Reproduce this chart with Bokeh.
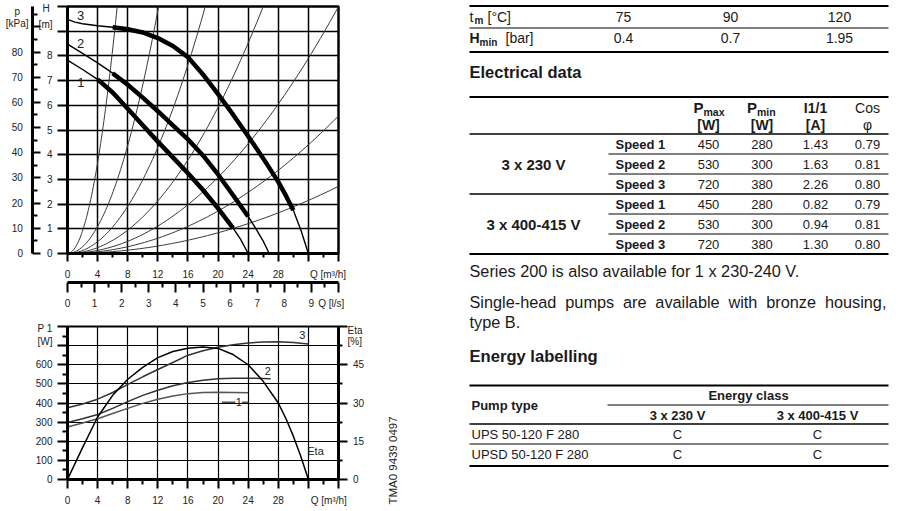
import math
from bokeh.plotting import figure
from bokeh.models import Range1d, LinearAxis, FixedTicker
from bokeh.layouts import row, column
from bokeh.embed import file_html
from bokeh.resources import INLINE
from bokeh.core.properties import value

FONT = "Liberation Sans"
INK = "#1a1a1a"
NB = "\u00a0"

# ---------------- Pump curves H [m] vs Q [m3/h]
q_speed1 = [0, 2, 4, 6, 8, 10, 12, 14, 16, 18, 20, 22, 23, 24]
h_speed1 = [7.83, 7.45, 7.05, 6.52, 5.86, 5.19, 4.53, 3.89, 3.25, 2.57, 1.83, 1.03, 0.57, 0.0]
q_speed2 = [0, 2, 4, 6, 8, 10, 12, 14, 16, 18, 20, 22, 24, 25, 26, 26.8]
h_speed2 = [8.48, 8.1, 7.72, 7.3, 6.83, 6.31, 5.76, 5.19, 4.62, 3.97, 3.2, 2.36, 1.5, 1.02, 0.5, 0.0]
q_speed3 = [0, 1, 2, 4, 6, 8, 10, 12, 14, 16, 18, 20, 22, 24, 26, 28, 29, 30, 31, 32]
h_speed3 = [9.48, 9.37, 9.3, 9.22, 9.16, 9.08, 8.95, 8.72, 8.4, 7.95, 7.25, 6.45, 5.62, 4.75, 3.85, 2.9, 2.35, 1.75, 0.95, 0.0]
speed_names = ["1", "2", "3"]
thick_q_from = [4, 6, 6]
thick_q_to = [22, 24, 30]

# system curves: end point of each parabola (Q [m3/h], H [m])
system_end_q = [6.6, 12.1, 18.3, 26.0, 36.0, 36.0, 36.0]
system_end_h = [10.0, 10.0, 10.0, 10.0, 10.0, 5.57, 2.72]

# axis ticks
q_major = [0, 4, 8, 12, 16, 20, 24, 28, 32, 36]
q_minor = [2, 6, 10, 14, 18, 22, 26, 30, 34]
q_labels = [0, 4, 8, 12, 16, 20, 24, 28]
h_major = [0, 1, 2, 3, 4, 5, 6, 7, 8, 9, 10]
h_labels = [0, 1, 2, 3, 4, 5, 6, 7, 8]
kpa_major = [0, 10, 20, 30, 40, 50, 60, 70, 80, 90]
kpa_minor = [5, 15, 25, 35, 45, 55, 65, 75, 85, 95]
kpa_labels = [0, 10, 20, 30, 40, 50, 60, 70, 80]
ls_major = [0, 1, 2, 3, 4, 5, 6, 7, 8, 9, 10]
ls_minor = [0.5, 1.5, 2.5, 3.5, 4.5, 5.5, 6.5, 7.5, 8.5, 9.5]
ls_labels = [0, 1, 2, 3, 4, 5, 6, 7, 8, 9]

# ---------------- Power P1 [W] and Eta [%] vs Q [m3/h]
q_p1_s1 = [0, 2, 4, 6, 8, 10, 12, 14, 16, 18, 20, 22, 24]
p1_s1 = [275, 295, 318, 345, 372, 398, 420, 437, 449, 455, 456, 455, 453]
q_p1_s2 = [0, 2, 4, 6, 8, 10, 12, 14, 16, 18, 20, 22, 24, 26, 27]
p1_s2 = [298, 318, 340, 372, 407, 440, 467, 490, 507, 519, 527, 530, 530, 528, 527]
q_p1_s3 = [0, 2, 4, 6, 8, 10, 12, 14, 16, 18, 20, 22, 24, 26, 28, 30, 32]
p1_s3 = [375, 395, 420, 455, 497, 537, 575, 612, 650, 673, 691, 705, 714, 719, 720, 716, 708]
q_eta = [0, 2, 4, 6, 8, 10, 12, 14, 16, 18, 20, 22, 24, 26, 28, 29, 30, 31, 32]
eta = [0, 12.5, 24.5, 33, 39.3, 44, 47.8, 50.2, 51.5, 52, 51.4, 49, 45, 38.5, 30, 24, 17, 9, 0]
p1_major = [0, 100, 200, 300, 400, 500, 600, 700, 800]
p1_minor = [50, 150, 250, 350, 450, 550, 650, 750]
p1_labels = [0, 100, 200, 300, 400, 500, 600]
eta_major = [0, 15, 30, 45, 60]
eta_minor = [7.5, 22.5, 37.5, 52.5]
eta_labels = [0, 15, 30, 45]

# ---------------- Tables
temp_values = ["75", "90", "120"]
hmin_values = ["0.4", "0.7", "1.95"]
supply = ["3 x 230 V", "3 x 400-415 V"]
speeds = ["Speed 1", "Speed 2", "Speed 3"]
p_max = ["450", "530", "720", "450", "530", "720"]
p_min = ["280", "300", "380", "280", "300", "380"]
i_full = ["1.43", "1.63", "2.26", "0.82", "0.94", "1.30"]
cos_phi = ["0.79", "0.81", "0.80", "0.79", "0.81", "0.80"]
notes = ["Series 200 is also available for 1 x 230-240 V.",
         "Single-head pumps are available with bronze housing,",
         "type B."]
pump_types = ["UPS 50-120 F 280", "UPSD 50-120 F 280"]
energy_230 = ["C", "C"]
energy_400 = ["C", "C"]
drawing_no = "TMA0 9439 0497"


def style_axis(ax, size="10px"):
    ax.axis_line_color = "black"
    ax.axis_line_width = 3
    ax.major_tick_line_color = "black"
    ax.major_tick_line_width = 2
    ax.minor_tick_line_color = "black"
    ax.minor_tick_line_width = 2
    ax.major_label_text_font = FONT
    ax.major_label_text_font_size = size
    ax.major_label_text_color = "#222222"


def no_labels(ax, ticks):
    ax.major_label_overrides = {t: "" for t in ticks}
    ax.major_label_text_font_size = "0px"
    ax.major_label_standoff = 0


def carrier(fig, side, ticks, labels, standoff, pad=0, range_name=None, size="10px"):
    kw = {}
    if range_name:
        kw["y_range_name" if side in ("left", "right") else "x_range_name"] = range_name
    ax = LinearAxis(ticker=FixedTicker(ticks=ticks, minor_ticks=[]), **kw)
    ax.major_label_overrides = {t: s for t, s in zip(ticks, labels)}
    ax.axis_line_color = None
    ax.major_tick_line_color = None
    ax.minor_tick_line_color = None
    ax.major_tick_out, ax.major_tick_in = pad, 0
    ax.minor_tick_out, ax.minor_tick_in = 0, 0
    ax.major_label_standoff = standoff
    ax.major_label_text_font = FONT
    ax.major_label_text_font_size = size
    ax.major_label_text_color = "#222222"
    fig.add_layout(ax, side)
    return ax


def spacer(fig, side, size):
    ax = LinearAxis(ticker=FixedTicker(ticks=[], minor_ticks=[]))
    ax.axis_line_color = None
    ax.major_tick_line_color = None
    ax.minor_tick_line_color = None
    ax.major_tick_out, ax.major_tick_in = size, 0
    ax.minor_tick_out, ax.minor_tick_in = 0, 0
    ax.major_label_text_font_size = "0px"
    ax.major_label_standoff = 0
    fig.add_layout(ax, side)


LEFT_W = 380

# ======================= TOP CHART =======================
top = figure(width=LEFT_W, height=318, x_range=Range1d(0, 36), y_range=Range1d(0, 10),
             output_backend="svg", toolbar_location=None,
             min_border_left=67, min_border_right=LEFT_W - 338, min_border_top=6, min_border_bottom=65)
top.background_fill_color = "white"
top.border_fill_color = "white"
top.outline_line_color = "black"
top.outline_line_width = 2.5
top.extra_y_ranges = {"kpa": Range1d(0, 98.0665)}
top.extra_x_ranges = {"ls": Range1d(0, 10)}

xa = top.xaxis[0]
xa.ticker = FixedTicker(ticks=q_major, minor_ticks=q_minor)
style_axis(xa)
no_labels(xa, q_major)
xa.major_tick_out, xa.major_tick_in = 8, 0
xa.minor_tick_out, xa.minor_tick_in = 4, 0
carrier(top, "below", q_labels + [34.6], [str(t) for t in q_labels] + ["Q [m³/h]"], standoff=7)
spacer(top, "below", 4)
la = LinearAxis(x_range_name="ls", ticker=FixedTicker(ticks=ls_major, minor_ticks=ls_minor))
style_axis(la)
no_labels(la, ls_major)
la.major_tick_out, la.major_tick_in = 10, 0
la.minor_tick_out, la.minor_tick_in = 5, 0
top.add_layout(la, "below")
carrier(top, "below", ls_labels + [9.73], [str(t) for t in ls_labels] + ["Q [l/s]"],
        standoff=5, range_name="ls")

ya = top.yaxis[0]
ya.ticker = FixedTicker(ticks=h_major, minor_ticks=[])
style_axis(ya)
no_labels(ya, h_major)
ya.major_tick_out, ya.major_tick_in = 10, 0
ya.minor_tick_out, ya.minor_tick_in = 0, 0
carrier(top, "left", h_labels + [9.27, 9.92],
        [str(t) for t in h_labels] + [NB + "[m]", "H" + NB], standoff=5)
pa = LinearAxis(y_range_name="kpa", ticker=FixedTicker(ticks=kpa_major, minor_ticks=kpa_minor))
style_axis(pa)
no_labels(pa, kpa_major)
pa.major_tick_in, pa.major_tick_out = 8, 0
pa.minor_tick_in, pa.minor_tick_out = 5, 0
top.add_layout(pa, "left")
carrier(top, "left", kpa_labels + [91.3, 96.1],
        [str(t) + NB * 2 for t in kpa_labels] + ["[kPa]", "p" + NB * 3],
        standoff=4, range_name="kpa")

for g in (top.xgrid[0], top.ygrid[0]):
    g.grid_line_color = "black"
    g.grid_line_width = 1.5

# system curves
for qe, he in zip(system_end_q, system_end_h):
    qs = [qe * i / 60 for i in range(61)]
    hs = [he * (q / qe) ** 2 for q in qs]
    top.line(qs, hs, line_color="#3a3a3a", line_width=1)

# pump curves
for qs, hs, qa, qb in zip([q_speed1, q_speed2, q_speed3], [h_speed1, h_speed2, h_speed3],
                          thick_q_from, thick_q_to):
    top.line(qs, hs, line_color="black", line_width=1.4)
    sub = [(q, h) for q, h in zip(qs, hs) if qa <= q <= qb]
    top.line([s[0] for s in sub], [s[1] for s in sub], line_color="black", line_width=4.5)

top.text(x=[1.79, 1.73, 1.73], y=[6.92, 8.52, 9.64], text=speed_names,
         text_font=value(FONT), text_font_size="13px", text_color="#222222",
         text_align="center", text_baseline="middle")

# ======================= BOTTOM CHART =======================
bot = figure(width=LEFT_W, height=193, x_range=Range1d(0, 36), y_range=Range1d(0, 800),
             output_backend="svg", toolbar_location=None,
             min_border_left=67, min_border_right=LEFT_W - 338, min_border_top=8, min_border_bottom=32)
bot.background_fill_color = "white"
bot.border_fill_color = "white"
bot.outline_line_color = "black"
bot.outline_line_width = 2
bot.extra_y_ranges = {"eta": Range1d(0, 60)}

bx = bot.xaxis[0]
bx.ticker = FixedTicker(ticks=q_major, minor_ticks=q_minor)
style_axis(bx)
no_labels(bx, q_major)
bx.major_tick_out, bx.major_tick_in = 9, 0
bx.minor_tick_out, bx.minor_tick_in = 5, 0
carrier(bot, "below", q_labels + [34.7], [str(t) for t in q_labels] + ["Q [m³/h]"], standoff=6)

by = bot.yaxis[0]
by.ticker = FixedTicker(ticks=p1_major, minor_ticks=p1_minor)
style_axis(by)
no_labels(by, p1_major)
by.major_tick_out, by.major_tick_in = 10, 0
by.minor_tick_out, by.minor_tick_in = 5, 0
carrier(bot, "left", p1_labels + [723, 791], [str(t) for t in p1_labels] + ["[W]", "P 1"], standoff=5)

ea = LinearAxis(y_range_name="eta", ticker=FixedTicker(ticks=eta_major, minor_ticks=eta_minor))
style_axis(ea)
no_labels(ea, eta_major)
ea.major_tick_out, ea.major_tick_in = 9, 0
ea.minor_tick_out, ea.minor_tick_in = 4, 0
bot.add_layout(ea, "right")
carrier(bot, "right", eta_labels + [54.2, 58.6],
        [NB * 2 + str(t) for t in eta_labels] + ["[%]", "Eta"], standoff=0, range_name="eta")

for g in (bot.xgrid[0], bot.ygrid[0]):
    g.grid_line_color = "black"
    g.grid_line_width = 1.2

bot.line(q_p1_s1, p1_s1, line_color="#555555", line_width=1.5)
bot.line(q_p1_s2, p1_s2, line_color="#333333", line_width=1.5)
bot.line(q_p1_s3, p1_s3, line_color="#333333", line_width=1.5)
bot.line(q_eta, eta, line_color="black", line_width=1.5, y_range_name="eta")

# leader line for curve 1 label
bot.line([20.5, 22.3], [404, 404], line_color="#555555", line_width=1.3)
bot.line([23.2, 24.0], [404, 404], line_color="#555555", line_width=1.3)

bot.text(x=[22.75, 26.6, 31.2, 32.95], y=[404, 567, 755, 148],
         text=speed_names + ["Eta"], text_font=value(FONT), text_font_size="11px",
         text_color="#222222", text_align="center", text_baseline="middle")

# ======================= TABLES =======================
tab = figure(width=898 - LEFT_W, height=511, x_range=Range1d(LEFT_W, 898), y_range=Range1d(511, 0),
             output_backend="svg", toolbar_location=None, min_border=0,
             x_axis_type=None, y_axis_type=None)
tab.outline_line_color = None
tab.grid.visible = False
tab.background_fill_color = "white"
tab.border_fill_color = "white"

X0, X1 = 469, 888


def hline(y, w, x0=X0, x1=X1):
    tab.segment(x0=[x0], y0=[y], x1=[x1], y1=[y], line_color="black", line_width=w)


def txt(x, y, s, size, bold=False, align="left", angle=0.0, color=INK):
    tab.text(x=[x], y=[y], text=[s], text_font=value(FONT), text_font_size=size,
             text_font_style="bold" if bold else "normal", text_align=align,
             text_baseline="middle", text_color=color, angle=angle)


# Arial / Liberation Sans advance widths (1/1000 em) for justified line
ADV = {"S": 667, "i": 222, "n": 556, "g": 556, "l": 222, "e": 556, "-": 333, "h": 556,
       "a": 556, "d": 556, "p": 556, "u": 556, "m": 833, "s": 500, "r": 333, "v": 500,
       "b": 556, "w": 722, "t": 278, "z": 500, "o": 556, ",": 278}


def text_w(s, px):
    return sum(ADV.get(c, 556) for c in s) * px / 1000.0


# drawing number (rotated, left of the tables)
txt(392.5, 460, drawing_no, "11.5px", align="center", angle=math.pi / 2, color="#222222")

# table 1
val_cols = [623, 730, 839]
hline(5.5, 2)
txt(469, 16, "t", "14px")
txt(474, 20, "m", "10px", bold=True)
txt(487, 16, "[°C]", "14px")
for c, v in zip(val_cols, temp_values):
    txt(c, 16, v, "14px", align="center")
hline(27.5, 1)
txt(469, 37.5, "H", "14px", bold=True)
txt(479, 41.5, "min", "10px", bold=True)
txt(505, 37.5, "[bar]", "14px")
for c, v in zip(val_cols, hmin_values):
    txt(c, 37.5, v, "14px", align="center")
hline(51.5, 2)

txt(469, 71, "Electrical data", "16.5px", bold=True)

# table 2
cols = [708, 761.5, 815, 867]
hline(96.5, 2)
txt(cols[0] - 5, 107, "P", "15px", bold=True, align="right")
txt(cols[0] - 5, 111, "max", "10.5px", bold=True)
txt(cols[1] - 5, 107, "P", "15px", bold=True, align="right")
txt(cols[1] - 5, 111, "min", "10.5px", bold=True)
txt(cols[2], 107, "I1/1", "14px", bold=True, align="center")
txt(cols[3], 107, "Cos", "14px", align="center")
for c, s, b in zip(cols, ["[W]", "[W]", "[A]", "φ"], [True, True, True, False]):
    txt(c, 124, s, "14px", bold=b, align="center")
hline(133.5, 1.3)
row_h = 20
y_top = 133.5
for i in range(6):
    yc = y_top + row_h * (i + 0.5)
    txt(615, yc, speeds[i % 3], "13px", bold=True)
    for c, vals in zip(cols, [p_max, p_min, i_full, cos_phi]):
        txt(c, yc, vals[i], "13px", align="center")
    yb = y_top + row_h * (i + 1)
    if i == 5:
        hline(yb, 2)
    elif i == 2:
        hline(yb, 1.3)
    else:
        hline(yb, 1, x0=608)
for g, s in enumerate(supply):
    txt(533, y_top + row_h * (3 * g + 1.5), s, "15px", bold=True, align="center")

# notes
NOTE_PX = 16.3
txt(469, 270, notes[0], f"{NOTE_PX}px")
words = notes[1].split(" ")
ww = [text_w(w_, NOTE_PX) for w_ in words]
gap = (886 - 469 - sum(ww)) / (len(words) - 1)
xw = 469
for w_, wl in zip(words, ww):
    txt(xw, 301.5, w_, f"{NOTE_PX}px")
    xw += wl + gap
txt(469, 321.5, notes[2], f"{NOTE_PX}px")
txt(469, 356, "Energy labelling", "16.6px", bold=True)

# energy table
e_cols = [677, 817]
hline(385, 2)
txt(748, 395, "Energy class", "13px", bold=True, align="center")
hline(404.5, 1, x0=607)
txt(471, 405, "Pump type", "13px", bold=True)
for c, s in zip(e_cols, supply):
    txt(c, 414.5, s, "13px", bold=True, align="center")
hline(423.5, 1.3)
for i, (pt, a, b) in enumerate(zip(pump_types, energy_230, energy_400)):
    yc = 423.5 + 20 * (i + 0.5)
    txt(471, yc, pt, "13px")
    txt(e_cols[0], yc, a, "13px", align="center")
    txt(e_cols[1], yc, b, "13px", align="center")
hline(443.5, 1)
hline(465.5, 2)

layout = row(column(top, bot), tab)
open("out.html", "w").write(file_html(layout, INLINE))
